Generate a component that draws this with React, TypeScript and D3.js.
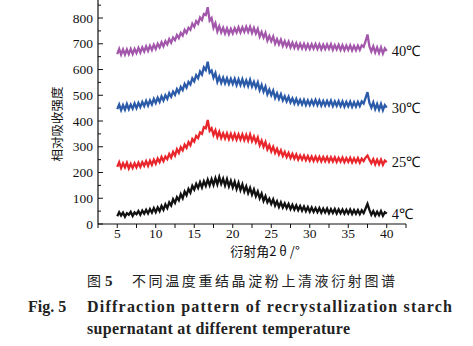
import React from "react";
import * as d3 from "d3";

const X_START = 5;
const X_STEP = 0.25;
const xTicks = [5, 10, 15, 20, 25, 30, 35, 40];
const yTicks = [0, 100, 200, 300, 400, 500, 600, 700, 800];
const seriesLabels = ["4℃", "25℃", "30℃", "40℃"];
const seriesColors = ["#111111", "#e8262b", "#2b5aa8", "#a357ab"];

const s4 = [
  30, 46, 33, 44, 28, 42, 36, 47, 31, 45, 38, 50, 36, 52, 40, 55, 41, 58, 44, 62,
  46, 64, 50, 70, 55, 76, 62, 84, 72, 96, 82, 104, 92, 116, 100, 126, 112, 136, 122, 148,
  134, 156, 140, 162, 142, 166, 148, 172, 150, 174, 152, 178, 154, 182, 156, 176, 150, 174, 146, 168,
  142, 164, 136, 160, 132, 154, 126, 146, 120, 140, 114, 134, 108, 126, 100, 118, 90, 108, 84, 98,
  78, 96, 72, 88, 66, 84, 64, 80, 62, 78, 58, 74, 56, 72, 54, 70, 52, 68, 50, 66,
  48, 64, 47, 62, 46, 62, 44, 60, 45, 60, 42, 58, 43, 58, 41, 57, 42, 56, 40, 55,
  41, 56, 39, 54, 40, 54, 38, 53, 42, 60, 78, 55, 36, 50, 33, 48, 34, 50, 32, 46, 40,
];
const s25 = [
  222, 240, 218, 236, 220, 238, 216, 234, 218, 236, 220, 238, 222, 240, 226, 244, 226, 246, 230, 250,
  234, 254, 240, 260, 244, 262, 252, 272, 258, 280, 266, 290, 276, 298, 286, 308, 296, 318, 306, 330,
  320, 342, 334, 356, 350, 376, 372, 404, 362, 372, 346, 364, 338, 358, 334, 352, 332, 352, 330, 350,
  330, 350, 328, 348, 328, 348, 326, 346, 324, 348, 322, 340, 318, 336, 306, 324, 300, 318, 290, 306,
  282, 300, 276, 292, 270, 286, 264, 280, 260, 276, 256, 272, 254, 270, 250, 266, 250, 266, 248, 264,
  246, 262, 245, 262, 245, 261, 243, 260, 244, 260, 242, 259, 243, 259, 241, 257, 242, 258, 240, 256,
  241, 257, 239, 255, 240, 256, 238, 254, 244, 258, 266, 250, 236, 252, 232, 250, 232, 250, 230, 246, 240,
];
const s30 = [
  446, 464, 442, 462, 444, 466, 446, 464, 448, 468, 450, 470, 454, 474, 458, 478, 460, 480, 464, 486,
  470, 490, 474, 496, 480, 500, 486, 508, 494, 514, 502, 524, 510, 532, 520, 544, 530, 552, 542, 566,
  554, 578, 566, 592, 580, 608, 598, 630, 588, 596, 568, 586, 552, 572, 548, 568, 546, 566, 544, 564,
  544, 564, 540, 562, 540, 562, 538, 558, 536, 560, 534, 552, 530, 550, 520, 540, 514, 534, 504, 522,
  500, 518, 490, 508, 486, 504, 480, 496, 476, 494, 472, 488, 468, 486, 466, 482, 464, 482, 462, 480,
  462, 480, 463, 482, 462, 480, 460, 478, 460, 478, 461, 479, 458, 476, 459, 477, 458, 476, 456, 474,
  457, 475, 455, 473, 456, 474, 458, 476, 468, 490, 512, 470, 452, 472, 446, 466, 444, 466, 442, 462, 452,
];
const s40 = [
  660, 680, 658, 678, 658, 678, 660, 680, 660, 680, 664, 684, 666, 686, 670, 690, 672, 692, 676, 696,
  680, 700, 686, 706, 690, 710, 698, 718, 704, 724, 714, 734, 722, 742, 732, 754, 742, 762, 754, 778,
  766, 788, 778, 802, 792, 816, 812, 842, 790, 800, 762, 780, 748, 768, 744, 762, 740, 760, 738, 758,
  740, 760, 744, 764, 744, 764, 746, 766, 746, 766, 742, 762, 740, 758, 728, 746, 724, 742, 712, 730,
  710, 728, 700, 718, 698, 716, 692, 710, 690, 708, 686, 704, 684, 702, 682, 700, 682, 700, 680, 698,
  680, 698, 681, 699, 680, 698, 678, 696, 679, 697, 680, 698, 677, 695, 678, 696, 676, 694, 675, 693,
  676, 694, 674, 692, 675, 693, 676, 694, 688, 710, 736, 690, 670, 690, 666, 686, 664, 686, 662, 682, 672,
];
const seriesValues = [s4, s25, s30, s40];

const W = 473;
const H = 346;
const AX_LEFT = 98;
const AX_RIGHT = 406;
const AX_BOTTOM = 224;
const AX_TOP = 0;

export default function App() {
  const x = d3.scaleLinear().domain([2.5, 42.5]).range([AX_LEFT, AX_RIGHT]);
  const y = d3.scaleLinear().domain([0, 870]).range([AX_BOTTOM, AX_TOP]);
  const line = d3
    .line<number>()
    .x((_, i) => x(X_START + i * X_STEP))
    .y((d) => y(d));

  const xMinor = d3.range(2.5, 42.6, 2.5);
  const yMinor = d3.range(50, 870, 100);
  const serif = "'Liberation Serif', 'Times New Roman', serif";
  const cjk = "'Noto Sans CJK SC', sans-serif";

  return (
    <svg
      width={W}
      height={H}
      style={{ position: "absolute", left: 0, top: 0, background: "#fff" }}
    >
      {seriesValues.map((vals, k) => (
        <path
          key={k}
          d={line(vals) || ""}
          fill="none"
          stroke={seriesColors[k]}
          strokeWidth={2.3}
          strokeLinejoin="miter"
        />
      ))}
      {seriesValues.map((vals, k) => (
        <text
          key={"l" + k}
          x={x(40) + 5}
          y={y(vals[vals.length - 1]) + 5}
          fontFamily={serif}
          fontSize={14.5}
          fill="#111"
        >
          {seriesLabels[k]}
        </text>
      ))}
      <line x1={AX_LEFT} x2={AX_LEFT} y1={AX_TOP} y2={AX_BOTTOM} stroke="#111" strokeWidth={1.2} />
      <line x1={AX_LEFT} x2={AX_RIGHT} y1={AX_BOTTOM} y2={AX_BOTTOM} stroke="#111" strokeWidth={1.2} />
      {yTicks.map((t) => (
        <g key={"yt" + t}>
          <line x1={AX_LEFT} x2={AX_LEFT + 5} y1={y(t)} y2={y(t)} stroke="#111" strokeWidth={1} />
          <text
            x={AX_LEFT - 5}
            y={y(t) + 4.5}
            textAnchor="end"
            fontFamily={serif}
            fontSize={13.5}
            fill="#111"
          >
            {t}
          </text>
        </g>
      ))}
      {yMinor.map((t) => (
        <line key={"ym" + t} x1={AX_LEFT} x2={AX_LEFT + 3} y1={y(t)} y2={y(t)} stroke="#111" strokeWidth={1} />
      ))}
      {xMinor.map((t) => (
        <line key={"xm" + t} x1={x(t)} x2={x(t)} y1={AX_BOTTOM} y2={AX_BOTTOM + 4} stroke="#111" strokeWidth={1} />
      ))}
      {xTicks.map((t) => (
        <text
          key={"xt" + t}
          x={x(t)}
          y={AX_BOTTOM + 14}
          textAnchor="middle"
          fontFamily={serif}
          fontSize={13.5}
          fill="#111"
        >
          {t}
        </text>
      ))}
      <text x={265} y={256} textAnchor="middle" fontFamily={cjk} fontSize={13} fill="#111">
        衍射角2 θ /°
      </text>
      <text
        transform={`translate(62,124) rotate(-90)`}
        textAnchor="middle"
        fontFamily={cjk}
        fontSize={12.5}
        fill="#111"
      >
        相对吸收强度
      </text>
      <text x={87} y={286} fontFamily={cjk} fontSize={14} fill="#222">
        图
      </text>
      <text x={105} y={286} fontFamily={serif} fontWeight="bold" fontSize={15} fill="#222">
        5
      </text>
      <text
        x={132}
        y={286}
        fontFamily={cjk}
        fontSize={14}
        fill="#222"
        textLength={263}
        lengthAdjust="spacing"
      >
        不同温度重结晶淀粉上清液衍射图谱
      </text>
      <text x={28} y={312} fontFamily={serif} fontWeight="bold" fontSize={16} fill="#222">
        Fig. 5
      </text>
      <text
        x={87}
        y={312}
        fontFamily={serif}
        fontWeight="bold"
        fontSize={16}
        fill="#222"
        textLength={365}
        lengthAdjust="spacing"
      >
        Diffraction pattern of recrystallization starch
      </text>
      <text
        x={87}
        y={334}
        fontFamily={serif}
        fontWeight="bold"
        fontSize={16}
        fill="#222"
        textLength={263}
        lengthAdjust="spacing"
      >
        supernatant at different temperature
      </text>
    </svg>
  );
}
